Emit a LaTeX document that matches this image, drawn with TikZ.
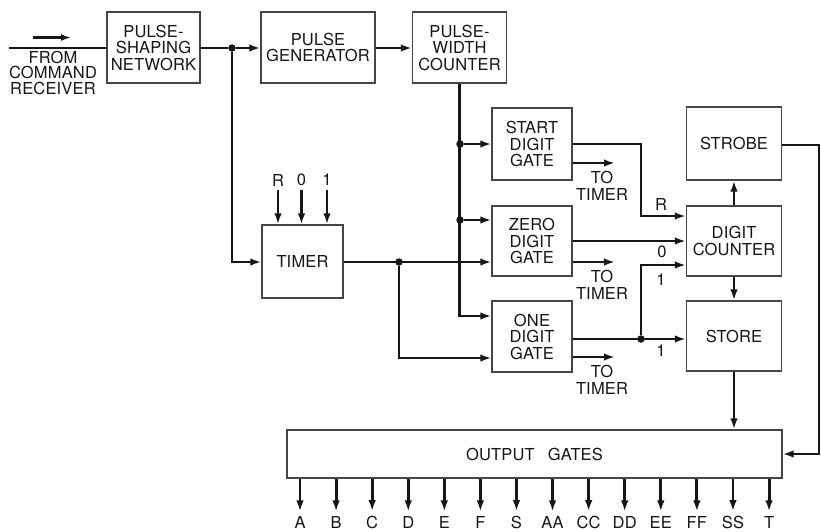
\documentclass[tikz,border=0pt]{standalone}
\usepackage{fontspec}
\setmainfont{TeX Gyre Heros}[LetterSpace=1]
\usepackage{tikz}
\usetikzlibrary{arrows.meta,positioning,calc}
\definecolor{ink}{RGB}{22,22,22}
\newcommand{\boxfont}{\fontsize{16.5pt}{16.5pt}\selectfont}
\tikzset{
  block/.style={draw=ink!80, line width=1.2pt, fill=white, align=center, inner sep=0pt,
    font=\boxfont, text=ink},
  wire/.style={draw=ink, line width=2.9pt},
  flow/.style={draw=ink, line width=2.9pt, -{Latex[length=11pt,width=7.5pt]}},
  dot/.style={circle, fill=ink, inner sep=0pt, minimum size=7.5pt},
  lbl/.style={font=\boxfont, inner sep=0pt, align=center, text=ink},
  sig/.style={lbl, outer sep=5pt}
}

\begin{document}
\begin{tikzpicture}[x=1pt,y=-1pt]
  \useasboundingbox (0,0) rectangle (821,531);
  % top row
  \node[block, minimum width=93pt, minimum height=71pt] (shaper) at (153.5,47.5) {PULSE-\\SHAPING\\NETWORK};
  \node[block, minimum width=114pt, minimum height=71pt] (pgen) at (318,47.5) {PULSE\\GENERATOR};
  \node[block, minimum width=94pt, minimum height=71pt] (pwc) at (459.5,47.5) {PULSE-\\WIDTH\\COUNTER};
  % gates
  \node[block, minimum width=81pt, minimum height=73pt] (timer) at (302.5,261.5) {TIMER};
  \node[block, minimum width=80pt, minimum height=72pt] (start) at (532,144) {START\\DIGIT\\GATE};
  \node[block, minimum width=80pt, minimum height=70pt] (zero) at (532,241) {ZERO\\DIGIT\\GATE};
  \node[block, minimum width=80pt, minimum height=71pt] (one) at (532,336.5) {ONE\\DIGIT\\GATE};
  % right column
  \node[block, minimum width=95pt, minimum height=73pt] (strobe) at (734,143.5) {STROBE};
  \node[block, minimum width=95pt, minimum height=70pt] (counter) at (734,241) {DIGIT\\COUNTER};
  \node[block, minimum width=95pt, minimum height=70pt] (store) at (734,336) {STORE};
  \node[block, minimum width=495pt, minimum height=48pt] (outgates) at (534.5,454) {OUTPUT\hspace{0.8em}GATES};

  % input
  \node[lbl, font=\fontsize{16.5pt}{15.5pt}\selectfont] (src) at (53,72.5) {FROM\\COMMAND\\RECEIVER};
  \coordinate (in) at (9,48);
  \coordinate (dirA) at (33,37.5);
  \coordinate (dirB) at (71,37.5);
  \draw[draw=ink, line width=2.5pt, -{Latex[length=10pt,width=7pt]}] (dirA) -- (dirB);
  \draw[wire] (in) -- (in -| shaper.west);

  % pulse chain
  \node[dot] (j1) at (232,48) {};
  \draw[wire] (shaper.east |- j1) -- (j1);
  \draw[flow] (j1) -- (pgen.west |- j1);
  \draw[flow] (pgen.east |- j1) -- (pwc.west |- j1);
  \draw[flow] (j1) |- (timer.west |- 0,262);

  % timer inputs
  \foreach \t/\x [count=\k] in {R/278,0/301.5,1/327} {
    \node[lbl, outer sep=4pt] (tin\k) at (\x,180) {\t};
    \draw[flow] (tin\k.south) -- (tin\k.south |- timer.north);
  }

  % pulse-width counter to the gates
  \node[dot] (j2) at (460,144) {};
  \node[dot] (j3) at (460,220) {};
  \draw[flow] (pwc.south) |- (one.west |- 0,316);
  \draw[flow] (j2) -- (start.west |- j2);
  \draw[flow] (j3) -- (zero.west |- j3);

  % timer to the gates
  \node[dot] (j4) at (399,262) {};
  \draw[flow] (timer.east |- 0,262) -- (zero.west |- 0,262);
  \draw[flow] (j4) |- (one.west |- 0,358);

  % to timer
  \foreach \g/\y [count=\k] in {start/163,zero/262,one/357} {
    \coordinate (tt\k) at (615,\y);
    \node[lbl] (ttl\k) at (602,{\y+23}) {TO\\TIMER};
    \draw[flow] (\g.east |- tt\k) -- (tt\k);
  }

  % gate outputs to digit counter and store
  \draw[flow] (start.east) -| (641,216) -- (counter.west |- 0,216);
  \draw[flow] (zero.east) -- (counter.west);
  \node[dot] (j5) at (641,339) {};
  \draw[flow] (one.east |- j5) -- (store.west |- j5);
  \draw[flow] (j5) |- (counter.west |- 0,265);
  \node[lbl] (lR) at (661,204) {R};
  \node[lbl] (l0) at (662,252) {0};
  \node[lbl] (l1a) at (661,280) {1};
  \node[lbl] (l1b) at (661,351) {1};

  \draw[flow] (counter.north) -- (strobe.south);
  \draw[flow] (counter.south) -- (store.north);
  \draw[flow] (store.south) -- (store.south |- outgates.north);
  \draw[flow] (strobe.east |- 0,145) -- (819,145) |- (outgates.east);

  % outputs
  \foreach \t [count=\i from 0] in {A,B,C,D,E,F,S,AA,CC,DD,EE,FF,SS,T} {
    \node[sig] (o\i) at ({300+36.08*\i},522.5) {\t};
    \draw[flow] (o\i |- outgates.south) -- (o\i.north);
  }
\end{tikzpicture}
\end{document}
